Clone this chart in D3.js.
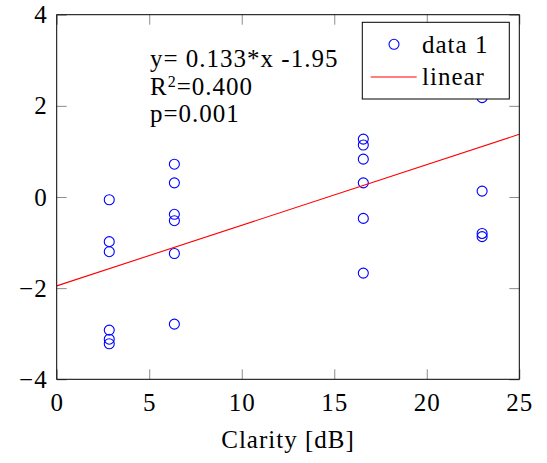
<!DOCTYPE html>
<html>
<head>
<meta charset="utf-8">
<script src="https://cdn.jsdelivr.net/npm/d3@7.9.0/dist/d3.min.js"></script>
<style>
  body { margin: 0; background: #fff; }
  svg text { font-family: "Liberation Serif", serif; font-size: 25px; letter-spacing: 1px; fill: #000; }
</style>
</head>
<body>
<svg id="chart" width="547" height="463"></svg>
<script>
// clarity groups (x) and measured values (y)
const clarity = [2.84, 6.36, 16.57, 22.99];
const group1 = [-0.06, -0.98, -1.20, -2.92, -3.12, -3.22];
const group2 = [0.72, 0.31, -0.38, -0.52, -1.24, -2.79];
const group3 = [1.27, 1.14, 0.83, 0.31, -0.47, -1.67];
const group4 = [2.18, 0.13, -0.80, -0.87];
const groups = [group1, group2, group3, group4];

// linear fit
const slope = 0.133;
const intercept = -1.95;

const xTicks = [0, 5, 10, 15, 20, 25];
const yTicks = [-4, -2, 0, 2, 4];
const statLines = ["y= 0.133*x -1.95", "R", "p=0.001"];

const points = [];
groups.forEach((vals, i) => {
    vals.forEach(v => points.push({ x: clarity[i], y: v }));
});

const mLeft = 56.7, mRight = 519.3, mTop = 14.7, mBottom = 379.3;

const svg = d3.select('#chart');

const x = d3.scaleLinear().domain([0, 25]).range([mLeft, mRight]);
const y = d3.scaleLinear().domain([-4, 4]).range([mBottom, mTop]);

const tickLen = -10;

// bottom axis with labels
const gx = svg.append('g')
    .attr('transform', `translate(0,${mBottom})`)
    .call(d3.axisBottom(x).tickValues(xTicks).tickSize(tickLen).tickPadding(8));
gx.selectAll('text').attr('dy', '0.95em');

// left axis with labels
const gy = svg.append('g')
    .attr('transform', `translate(${mLeft},0)`)
    .call(d3.axisLeft(y).tickValues(yTicks).tickSize(tickLen).tickPadding(9));

// mirrored ticks, no labels
svg.append('g')
    .attr('transform', `translate(0,${mTop})`)
    .call(d3.axisTop(x).tickValues(xTicks).tickSize(tickLen).tickFormat(''));
svg.append('g')
    .attr('transform', `translate(${mRight},0)`)
    .call(d3.axisRight(y).tickValues(yTicks).tickSize(tickLen).tickFormat(''));

svg.selectAll('.domain').remove();
svg.selectAll('.tick line').attr('stroke', '#8c8c8c').attr('stroke-width', 1);
svg.selectAll('.tick text').attr('fill', '#000');
svg.selectAll('g').attr('font-family', null).attr('font-size', null);

// clip for plot content
svg.append('clipPath').attr('id', 'plotClip')
    .append('rect')
    .attr('x', mLeft).attr('y', mTop)
    .attr('width', mRight - mLeft).attr('height', mBottom - mTop);

const plot = svg.append('g').attr('clip-path', 'url(#plotClip)');

// scatter
plot.selectAll('circle')
    .data(points)
    .join('circle')
    .attr('cx', d => x(d.x))
    .attr('cy', d => y(d.y))
    .attr('r', 5)
    .attr('fill', 'none')
    .attr('stroke', '#0000ff')
    .attr('stroke-width', 1.1);

// regression line
const line = d3.line().x(d => x(d)).y(d => y(slope * d + intercept));
plot.append('path')
    .attr('d', line([0, 25]))
    .attr('fill', 'none')
    .attr('stroke', '#ff0000')
    .attr('stroke-width', 1.1);

// frame
svg.append('rect')
    .attr('x', mLeft).attr('y', mTop)
    .attr('width', mRight - mLeft).attr('height', mBottom - mTop)
    .attr('fill', 'none')
    .attr('stroke', '#000')
    .attr('stroke-width', 1);

// stats text
const stats = svg.append('g');
stats.append('text').attr('x', 150).attr('y', 67).text(statLines[0]);
const r2 = stats.append('text').attr('x', 150).attr('y', 95);
r2.append('tspan').text(statLines[1]);
r2.append('tspan').attr('dy', -8).style('font-size', '16px').text('2');
r2.append('tspan').attr('dy', 8).text('=0.400');
stats.append('text').attr('x', 150).attr('y', 122).text(statLines[2]);

// legend
const legend = svg.append('g');
legend.append('rect')
    .attr('x', 362.3).attr('y', 22.3)
    .attr('width', 147).attr('height', 76.7)
    .attr('fill', '#fff')
    .attr('stroke', '#000')
    .attr('stroke-width', 1);
legend.append('circle')
    .attr('cx', 394).attr('cy', 44.3).attr('r', 5)
    .attr('fill', 'none').attr('stroke', '#0000ff').attr('stroke-width', 1.1);
legend.append('text').attr('x', 422).attr('y', 52.5).text('data 1');
legend.append('line')
    .attr('x1', 370.7).attr('x2', 416.7).attr('y1', 77).attr('y2', 77)
    .attr('stroke', '#ff0000').attr('stroke-width', 1.1);
legend.append('text').attr('x', 422).attr('y', 85).text('linear');

// x axis title
svg.append('text')
    .attr('x', (mLeft + mRight) / 2)
    .attr('y', 448)
    .attr('text-anchor', 'middle')
    .text('Clarity [dB]');
</script>
</body>
</html>
